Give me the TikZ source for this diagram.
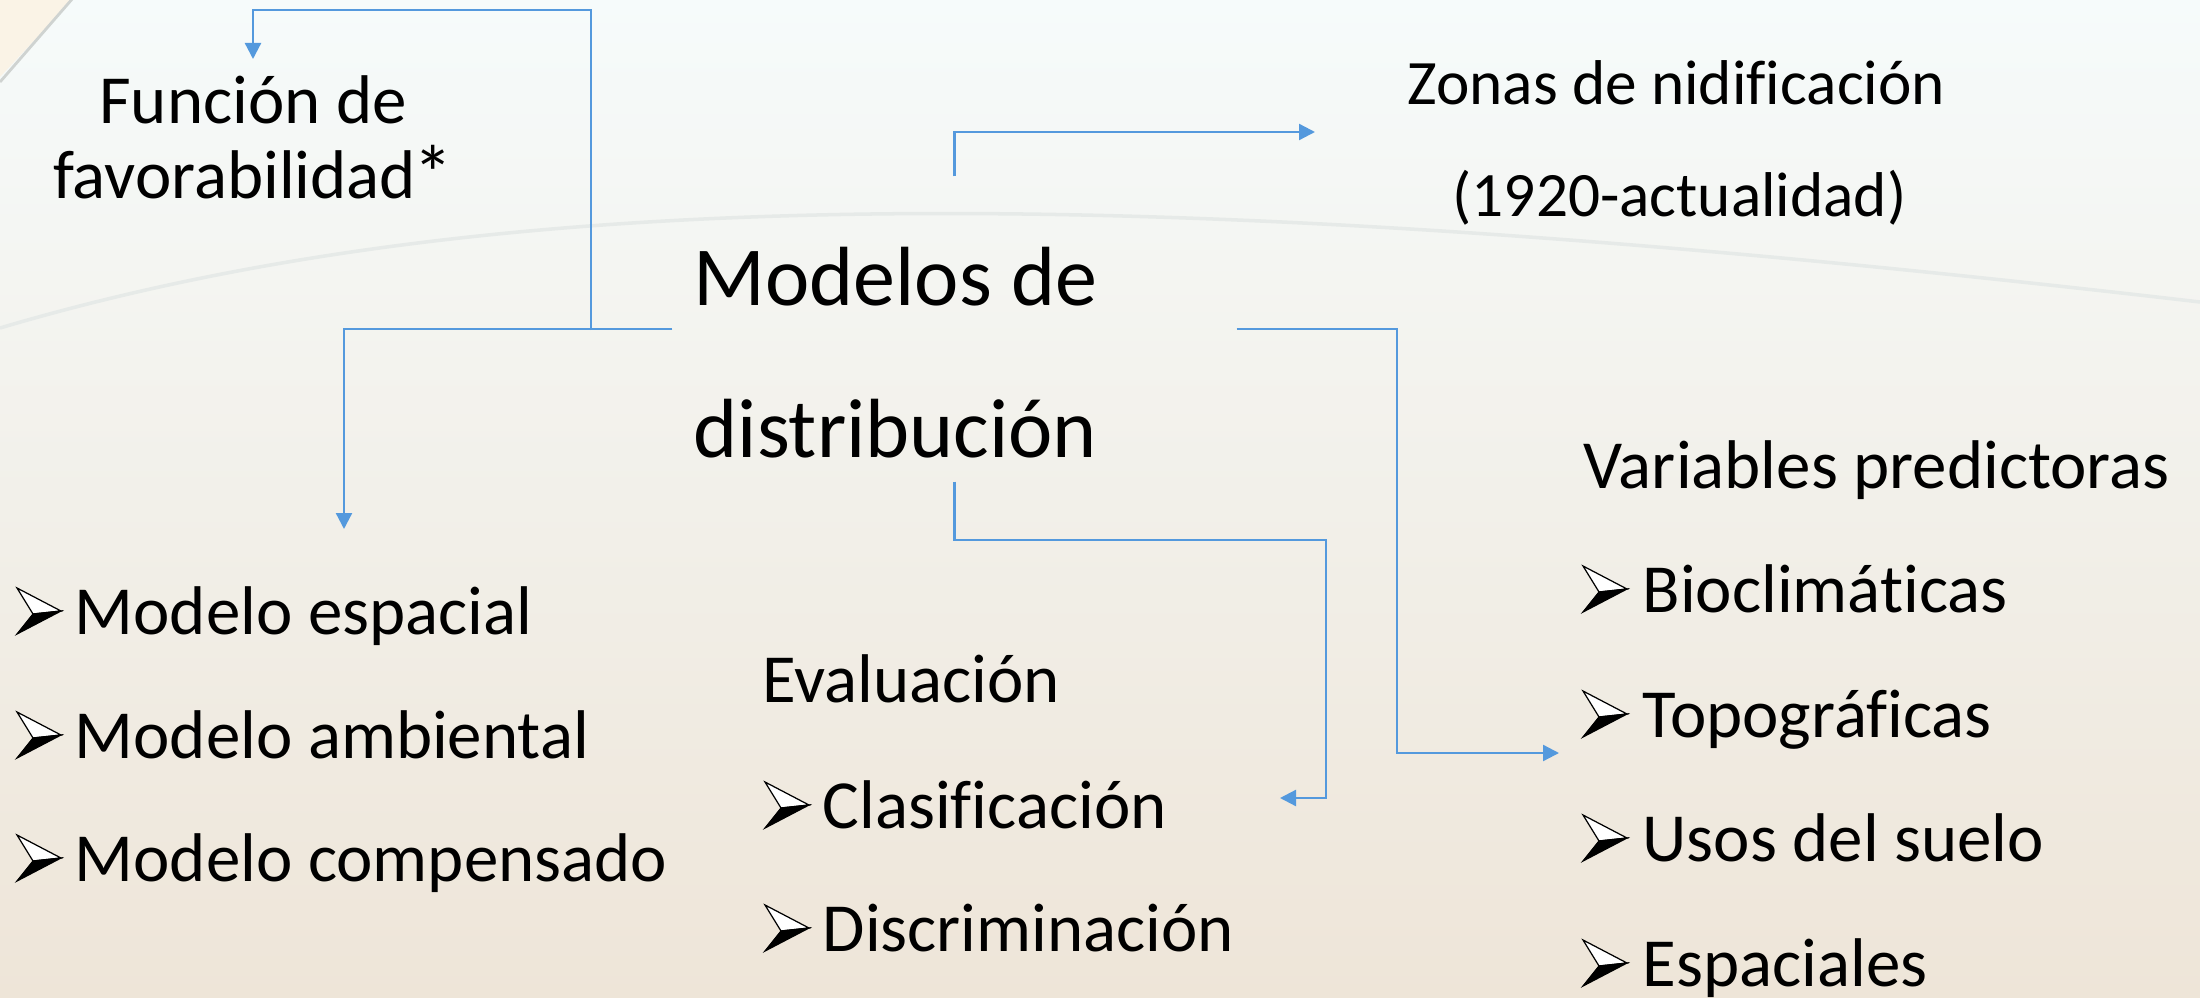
\documentclass[tikz,border=0pt]{standalone}
\usepackage{fontspec}
\setmainfont[Ligatures=NoCommon]{Carlito}
\usetikzlibrary{arrows.meta}
\definecolor{lineblue}{RGB}{84,153,221}
\definecolor{bgtop}{RGB}{246,251,251}
\definecolor{bgmid}{RGB}{241,247,243}
\definecolor{bgbot}{RGB}{238,229,216}
\definecolor{cornercol}{RGB}{250,243,230}
\definecolor{arccol}{RGB}{230,234,232}
\begin{document}
\begin{tikzpicture}[x=0.1mm,y=-0.1mm,
  conn/.style={draw=lineblue, line width=0.65pt},
  arr/.style={conn, -{Triangle[length=1.6mm,width=1.6mm]}},
  tnorm/.style={inner sep=0pt, anchor=base west, font=\fontsize{19.6}{23}\selectfont},
  tbig/.style={inner sep=0pt, anchor=base west, font=\fontsize{23.9}{28}\selectfont},
  tsmall/.style={inner sep=0pt, anchor=base west, font=\fontsize{18}{22}\selectfont},
  hub/.style={inner sep=0pt, minimum width=56.3mm, minimum height=30.4mm},
  bul/.pic={
    \filldraw[fill=white, draw=black, line width=0.35pt, line join=miter] (0,-46) -- (44,-23) -- (16,-20) -- cycle;
    \filldraw[fill=black, draw=black, line width=0.35pt, line join=miter] (16,-20) -- (44,-23) -- (0,0) -- cycle;
  }
]
\useasboundingbox (0,0) rectangle (2200,998);
\clip (0,0) rectangle (2200,998);
% background
\shade[top color=bgtop, middle color=bgmid, bottom color=bgbot] (0,0) rectangle (2200,998);
\fill[cornercol] (0,0) -- (72,0) -- (0,77) -- cycle;
\draw[arccol!90!black, line width=0.8pt] (80,-10) -- (0,82);
\draw[arccol, line width=1pt] (0,328) .. controls (500,180) and (1150,180) .. (2200,302);

% hub node
\node[hub] (main) at (954.5,329) {};
\node[tbig] (mt1) at (693,305) {Modelos de};
\node[tbig] (mt2) at (693,457) {distribución};

% Función de favorabilidad
\node[tnorm, anchor=base] (fun1) at (253,124) {Función de};
\node[tnorm, anchor=base] (fun2) at (253,199) {favorabilidad\kern-0.04em\raisebox{-0.04em}{\scalebox{1.15}{*}}};

% Zonas
\node[tsmall] (z1) at (1407,105) {Zonas de nidificación};
\node[tsmall] (z2) at (1452,217) {(1920-actualidad)};

% left list
\node[tnorm] (m1) at (74,634) {Modelo espacial};
\node[tnorm] (m2) at (74,758) {Modelo ambiental};
\node[tnorm] (m3) at (74,881) {Modelo compensado};
\pic at (17,634) {bul};
\pic at (17,758) {bul};
\pic at (17,881) {bul};

% evaluation
\node[tnorm] (e0) at (762,702) {Evaluación};
\node[tnorm] (e1) at (822,828) {Clasificación};
\node[tnorm] (e2) at (822,951) {Discriminación};
\pic at (765,828) {bul};
\pic at (765,951) {bul};

% variables
\node[tnorm] (v0) at (1583,488) {Variables predictoras};
\node[tnorm] (v1) at (1642,612) {Bioclimáticas};
\node[tnorm] (v2) at (1642,737) {Topográficas};
\node[tnorm] (v3) at (1642,861) {Usos del suelo};
\node[tnorm] (v4) at (1642,986) {Espaciales};
\pic at (1583,612) {bul};
\pic at (1583,737) {bul};
\pic at (1583,861) {bul};
\pic at (1583,986) {bul};

% connector end points
\coordinate (funin) at (253,59);
\coordinate (fk) at (253,10);
\coordinate (j1) at (591,330);
\coordinate (modin) at (344,529);
\coordinate (zin) at (1315,132);
\coordinate (k4) at (1397,753);
\coordinate (varin) at (1559,753);
\coordinate (k5) at (1326,540);
\coordinate (evin) at (1280,798);

% connectors
\draw[arr] (main.west) -| (modin);
\draw[arr] (j1) |- (fk) -- (funin);
\draw[arr] (main.north) |- (zin);
\draw[arr] (main.east) -| (k4) -- (varin);
\draw[arr] (main.south) |- (k5) |- (evin);
\end{tikzpicture}
\end{document}
